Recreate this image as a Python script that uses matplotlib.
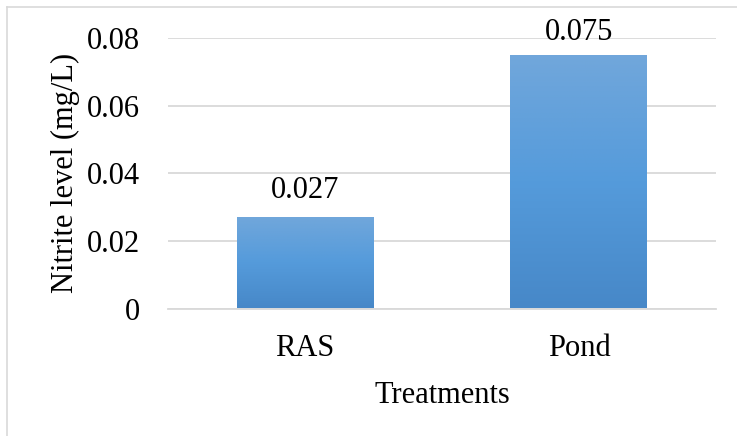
import numpy as np
import matplotlib
matplotlib.use("Agg")
import matplotlib.pyplot as plt
from matplotlib.colors import LinearSegmentedColormap
from matplotlib.lines import Line2D

plt.rcParams['font.family'] = ['Liberation Serif', 'DejaVu Serif']

categories = ["RAS", "Pond"]
nitrite = [0.027, 0.075]
value_labels = ["0.027", "0.075"]
yticks = [0, 0.02, 0.04, 0.06, 0.08]
ytick_labels = ["0", "0.02", "0.04", "0.06", "0.08"]

FS = 22

fig = plt.figure(figsize=(7.37, 4.36), dpi=100)
ax = fig.add_axes([168 / 737, (436 - 308.5) / 436, 548 / 737, 270.5 / 436])

x = np.arange(len(categories))
bars = ax.bar(x, nitrite, width=0.5, color="none", edgecolor="none", zorder=3)

# vertical gradient fill for each bar
cmap = LinearSegmentedColormap.from_list("bluegrad", ["#4788C8", "#559BDB", "#71A7DB"])
grad = np.linspace(0, 1, 256).reshape(-1, 1)
for b in bars:
    x0, y0 = b.get_x(), b.get_y()
    w, h = b.get_width(), b.get_height()
    im = ax.imshow(grad, cmap=cmap, origin="lower", aspect="auto",
                   extent=[x0, x0 + w, y0, y0 + h], zorder=3)
    im.set_clip_path(b)

# value labels above bars (the tall one is kept inside the plot area)
label_offsets = [9, 5.5]
for xi, v, lab, off in zip(x, nitrite, value_labels, label_offsets):
    ax.annotate(lab, (xi, v), xytext=(0, off), textcoords="offset points",
                ha="center", va="bottom", fontsize=FS, color="#000000",
                annotation_clip=False)

ax.set_xlim(-0.5, 1.5)
ax.set_ylim(0, 0.08)
ax.set_yticks(yticks)
ax.set_yticklabels(ytick_labels)
ax.set_xticks(x)
ax.set_xticklabels(categories)
ax.tick_params(axis="both", length=0, labelsize=FS, colors="#000000")
ax.tick_params(axis="y", pad=20)
ax.tick_params(axis="x", pad=18.5)
ax.grid(axis="y", color="#D9D9D9", linewidth=1.3, zorder=0)
ax.set_axisbelow(True)
for side in ["top", "right", "left"]:
    ax.spines[side].set_visible(False)
ax.spines["bottom"].set_color("#D9D9D9")
ax.spines["bottom"].set_linewidth(1.3)

ax.set_ylabel("Nitrite level (mg/L)", fontsize=FS, labelpad=5)
ax.set_xlabel("Treatments", fontsize=FS, labelpad=13)

# chart frame
fig.add_artist(Line2D([7 / 737, 1], [1 - 7 / 436, 1 - 7 / 436], transform=fig.transFigure,
                      color="#D9D9D9", linewidth=1.2))
fig.add_artist(Line2D([7 / 737, 7 / 737], [0, 1 - 7 / 436], transform=fig.transFigure,
                      color="#D9D9D9", linewidth=1.2))

fig.savefig("out.png", dpi=100, facecolor="white")
